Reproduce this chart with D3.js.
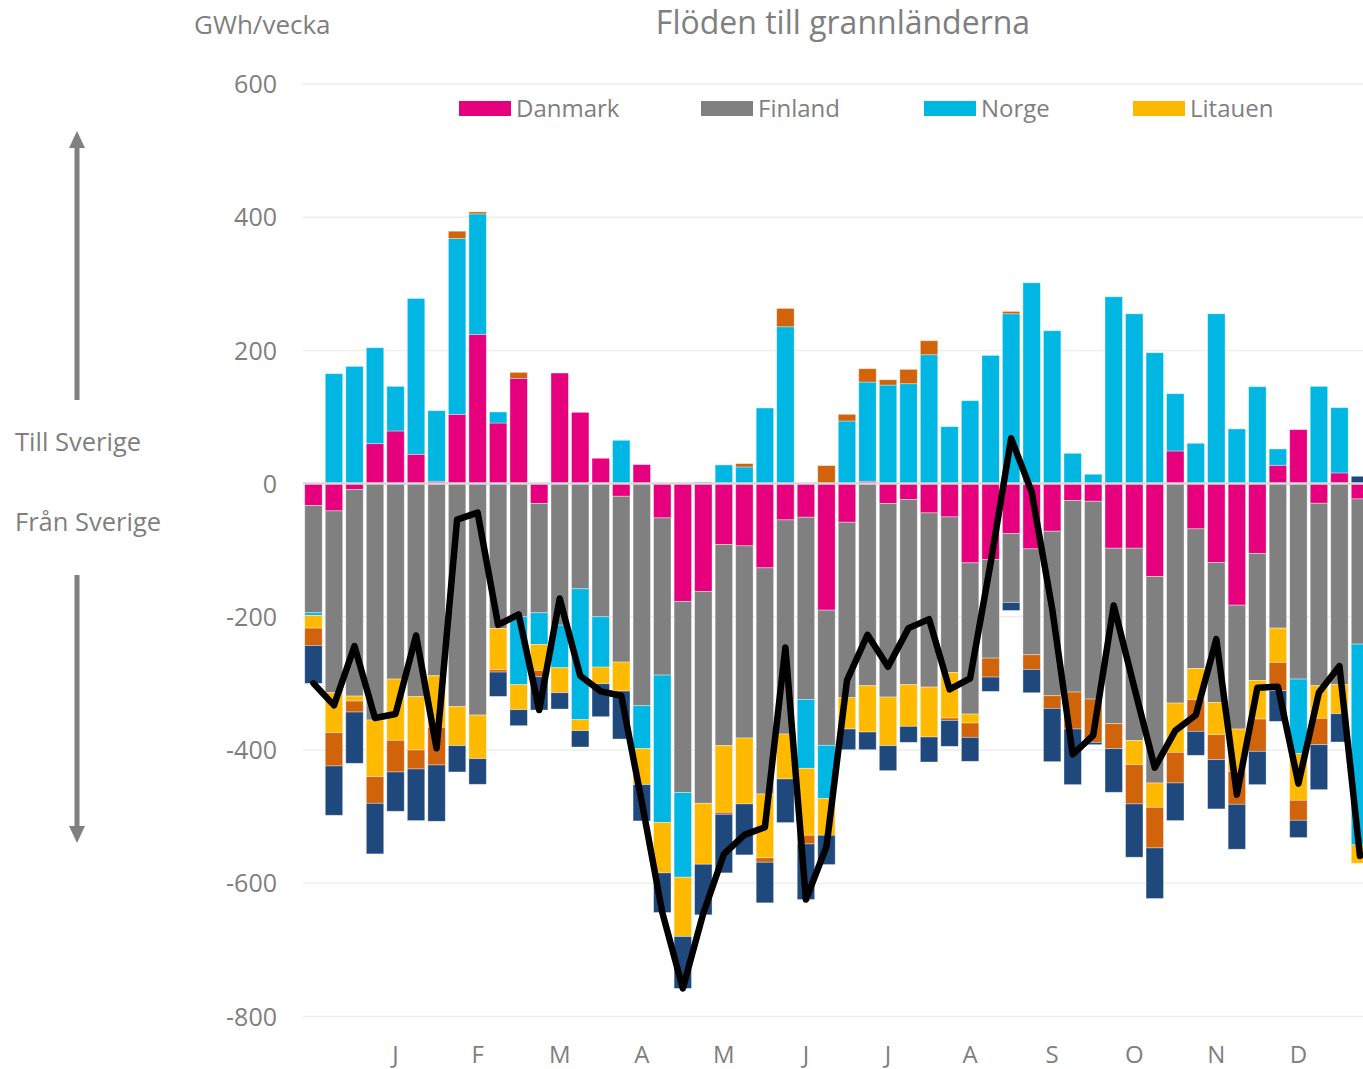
<!DOCTYPE html>
<html>
<head>
<meta charset="utf-8">
<script src="https://cdn.jsdelivr.net/npm/d3@7"></script>
<style>
  html, body { margin: 0; padding: 0; background: #fff; overflow: hidden; }
  svg { display: block; font-family: "Open Sans", "Noto Sans", sans-serif; }
</style>
</head>
<body>
<svg id="chart" width="1363" height="1069"></svg>
<script>
// ---- data (GWh/vecka, positive = till Sverige, negative = från Sverige) ----
const weeks = d3.range(1, 53);
const monthLabels = ["J", "F", "M", "A", "M", "J", "J", "A", "S", "O", "N", "D"];
const monthWeekIndex = [4, 8, 12, 16, 20, 24, 28, 32, 36, 40, 44, 48];
const yTicks = [600, 400, 200, 0, -200, -400, -600, -800];

const danmark = [-33, -41, -9, 60, 79, 44, 3.5, 104, 224, 91, 158, -30, 166, 107, 38, -19, 28.5, -51.5, -177, -162,
  -91.5, -93.5, -126.5, -54.5, -50.5, -190, -58, 3.5, -30, -24, -44, -50, -119, -114, -75, -98, -71.5, -25.5, -26.5, -97,
  -97, -139.5, 49, -68, -118.5, -182.5, -105, 27.5, 81, -29.5, 16, -23];
const finland = [-161, -273, -310, -355, -293.5, -320, -288.5, -335, -347.5, -217.5, -200, -164, -212.5, -158, -200, -249, -333.5, -236, -287, -318,
  -302, -288.5, -339.5, -321.5, -273.5, -203, -263.5, -303.5, -290.5, -278, -261.5, -233.5, -227, -148, -103.5, -159, -247, -287.5, -297, -263.5,
  -289, -310, -329.5, -209.5, -210, -186, -190.5, -217, -293.5, -274, -302, -218];
const norge = [-4, 165, 176, 144, 67, 234, 106, 264, 181, 16.5, -102, -47.5, -64, -196.5, -75.5, 65, -64.5, -221.5, -127, 2.5,
  28, 25, 113.5, 235.5, -103.5, -80, 94, 149, 148, 150, 193.5, 85.5, 124.5, 192.5, 255, 301.5, 229.5, 45.5, 14, 280.5,
  255, 196.5, 86, 60.5, 255, 82, 145.5, 24.5, -112, 146, 98, -301.5];
const litauen = [-19, -60, -7.5, -85, -92, -80, -77.5, -58.5, -65.5, -62, -37.5, -39, -37.5, -16.5, -25, -43.5, -54, -75.5, -89, -91.5,
  -100, -99, -96, -67.5, -100.5, -55, -47, -69.5, -73, -62.5, -75, -68.5, -13.5, 0, 0, 0, 0, 0, 0, 0,
  -36, -36.5, -74, -47, -48.5, -64, -58, -51.5, -70, -49, -43.5, -27.5];
const tyskland = [-26, -50, -16.5, -40, -47.5, -28.5, -56.5, 11, 3, -3.5, 9, -9.5, 0, 0, 0, 0, 0, 0, 0, 0,
  -3, 5, -6.5, 27.5, -13, 27, 10, 20, 8, 21.5, 21, -3.5, -21.5, -28.5, 3.5, -22, -19, -55.5, -65, -37.5,
  -59, -61, -46, -47.5, -37.5, -49, -48.5, -42.5, -30, -39.5, 0, 0];
const polen = [-57, -74, -77, -76, -59, -77.5, -84.5, -39.5, -38.5, -36.5, -24, -50, -24.5, -24.5, -49.5, -72, -54.5, -59.5, -78, -76,
  -88, -76.5, -61, -65.5, -83.5, -44, -31, -26.5, -37.5, -24, -37.5, -39, -36, -21.5, -12, -35, -80, -83.5, -3.5, -65.5,
  -80, -76, -56.5, -36, -74, -67.5, -50, -46, -26, -67.5, -42.5, 11];

const seriesNames = ["Danmark", "Finland", "Norge", "Litauen", "Tyskland", "Polen"];
const seriesColors = ["#E6007E", "#808080", "#00B7E4", "#FFBA00", "#D1630A", "#1F497D"];
const legendNames = ["Danmark", "Finland", "Norge", "Litauen"];

// ---- build table ----
const seriesData = [danmark, finland, norge, litauen, tyskland, polen];
const rows = weeks.map((w, i) => {
  const r = { week: i };
  seriesNames.forEach((n, k) => r[n] = seriesData[k][i]);
  return r;
});
const net = rows.map(r => d3.sum(seriesNames, n => r[n]));

const svg = d3.select("#chart");
const textColor = "#7F7F7F";

const x = d3.scaleBand().domain(d3.range(weeks.length)).range([303.2, 303.2 + 52 * 20.52])
  .paddingInner(0.15).paddingOuter(0.075);
const y = d3.scaleLinear().domain([-800, 600]).range([1016.4, 84]);

// gridlines
svg.append("g").selectAll("line").data(yTicks.filter(d => d !== 0)).join("line")
  .attr("x1", 303).attr("x2", 1363)
  .attr("y1", d => y(d)).attr("y2", d => y(d))
  .attr("stroke", "#EEEEEE").attr("stroke-width", 1.5);

// y axis labels
const yAxis = d3.axisLeft(y).tickValues(yTicks).tickSize(0).tickPadding(0).tickFormat(d => String(d));
const gy = svg.append("g").attr("transform", "translate(277,0)").call(yAxis);
gy.select(".domain").remove();
gy.selectAll("text").attr("fill", textColor).style("font-size", "25px")
  .style("font-family", "'Open Sans', sans-serif").attr("dy", "0.35em");

// stacked bars
const stack = d3.stack().keys(seriesNames).offset(d3.stackOffsetDiverging);
const stacked = stack(rows);
svg.append("g").selectAll("g").data(stacked).join("g")
  .attr("fill", (d, k) => seriesColors[k])
  .selectAll("rect").data(d => d).join("rect")
  .attr("x", (d, i) => x(i))
  .attr("width", x.bandwidth())
  .attr("y", d => y(Math.max(d[0], d[1])))
  .attr("height", d => Math.abs(y(d[0]) - y(d[1])))
  .attr("stroke", "rgba(255,255,255,0.45)").attr("stroke-width", 0.8);

// zero line
svg.append("line").attr("x1", 303).attr("x2", 1363).attr("y1", y(0)).attr("y2", y(0))
  .attr("stroke", "#D9D9D9").attr("stroke-width", 2.5);

// net line
const line = d3.line().x((d, i) => x(i) + x.bandwidth() / 2).y(d => y(d));
svg.append("path").datum(net).attr("d", line)
  .attr("fill", "none").attr("stroke", "#000").attr("stroke-width", 6.5)
  .attr("stroke-linejoin", "round").attr("stroke-linecap", "round");

// x axis (months)
const xAxis = d3.axisBottom(x).tickValues(monthWeekIndex)
  .tickFormat(d => monthLabels[monthWeekIndex.indexOf(d)]).tickSize(0).tickPadding(0);
const gx = svg.append("g").attr("transform", "translate(0,1046)").call(xAxis);
gx.select(".domain").remove();
gx.selectAll("text").attr("fill", textColor).style("font-size", "24px")
  .style("font-family", "'Open Sans', sans-serif").attr("dy", "0.71em");

// title & unit
svg.append("text").attr("x", 843).attr("y", 34).attr("text-anchor", "middle")
  .attr("fill", textColor).style("font-size", "32px").text("Flöden till grannländerna");
svg.append("text").attr("x", 194).attr("y", 34)
  .attr("fill", textColor).style("font-size", "26px").text("GWh/vecka");

// legend
const legendX = [459, 701, 924, 1133];
const lg = svg.append("g").selectAll("g").data(legendNames).join("g")
  .attr("transform", (d, i) => `translate(${legendX[i]},0)`);
lg.append("rect").attr("x", 0).attr("y", 101).attr("width", 52).attr("height", 15)
  .attr("fill", (d, i) => seriesColors[i]);
lg.append("text").attr("x", 57).attr("y", 117).attr("fill", textColor)
  .style("font-size", "24px").text(d => d);

// side annotations
svg.append("text").attr("x", 15).attr("y", 451).attr("fill", textColor)
  .style("font-size", "25.5px").text("Till Sverige");
svg.append("text").attr("x", 15).attr("y", 531).attr("fill", textColor)
  .style("font-size", "25.5px").text("Från Sverige");

const arrowColor = "#808080";
svg.append("line").attr("x1", 77).attr("x2", 77).attr("y1", 400).attr("y2", 146)
  .attr("stroke", arrowColor).attr("stroke-width", 5);
svg.append("path").attr("d", "M77,131 L69,148 L85,148 Z").attr("fill", arrowColor);
svg.append("line").attr("x1", 77).attr("x2", 77).attr("y1", 575).attr("y2", 828)
  .attr("stroke", arrowColor).attr("stroke-width", 5);
svg.append("path").attr("d", "M77,843 L69,826 L85,826 Z").attr("fill", arrowColor);
</script>
</body>
</html>
